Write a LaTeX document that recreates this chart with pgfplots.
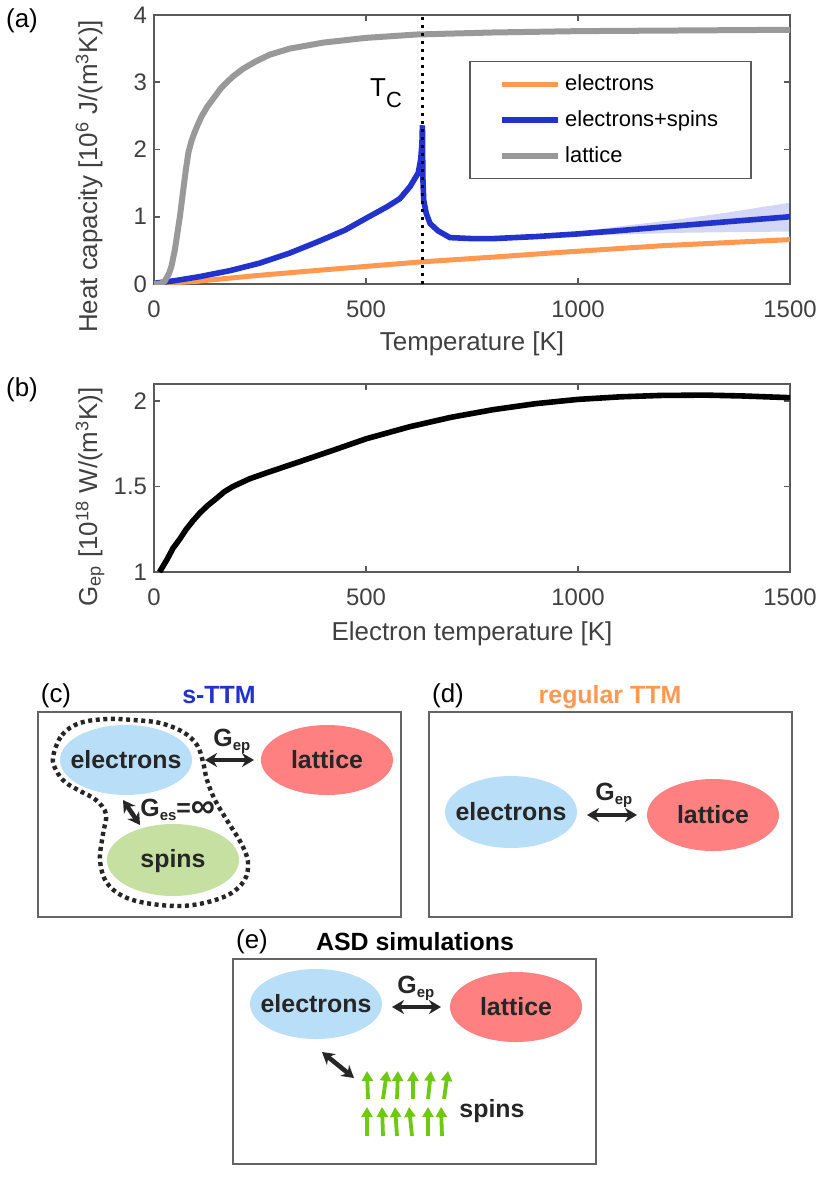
\documentclass[border=0pt]{standalone}
\usepackage{fontspec}
\setmainfont{Liberation Sans}
\usepackage{pgfplots}
\pgfplotsset{compat=1.18}
\usetikzlibrary{arrows.meta}

\definecolor{cOrange}{RGB}{255,153,82}
\definecolor{cBlue}{RGB}{34,51,204}
\definecolor{cGray}{RGB}{153,153,153}
\definecolor{axgray}{RGB}{90,90,90}
\definecolor{txgray}{RGB}{64,64,64}
\definecolor{eBlue}{RGB}{185,222,248}
\definecolor{eRed}{RGB}{255,128,128}
\definecolor{eGreen}{RGB}{197,224,160}
\definecolor{sGreen}{RGB}{110,200,20}
\definecolor{dark}{RGB}{38,38,38}
\definecolor{boxgray}{RGB}{100,100,100}

\pgfplotsset{
  panel/.style={
    scale only axis,
    xmin=0, xmax=1500,
    xtick={0,500,1000,1500},
    tick align=inside,
    major tick length=3bp,
    axis line style={draw=axgray, line width=0.75bp},
    every tick/.style={draw=axgray, line width=0.75bp},
    tick label style={font=\fontsize{12}{14}\selectfont, text=txgray},
    xticklabel style={yshift=-5bp},
    /pgf/number format/assume math mode=true,
    /pgf/number format/1000 sep={},
    label style={font=\fontsize{13}{15}\selectfont, text=txgray},
  },
}

\newcommand{\bigtxt}{\fontsize{12.5}{14}\selectfont\bfseries}
\newcommand{\Gsub}[1]{G\raisebox{-2bp}{\fontsize{7.5}{8}\selectfont #1}}
\tikzset{dbl/.style={dark, line width=2.3bp,
  {Stealth[length=6bp,width=7bp]}-{Stealth[length=6bp,width=7bp]}}}

\begin{document}
\begin{tikzpicture}
% schematic panels, coordinates in pixels of the reference (y downwards)
\begin{scope}[x=0.5bp, y=-0.5bp]
\useasboundingbox (0,0) rectangle (830,1180);

% panel labels
\node[anchor=base, font=\fontsize{13}{15}\selectfont] at (22,28) {(a)};
\node[anchor=base, font=\fontsize{13}{15}\selectfont] at (22,397) {(b)};
\node[anchor=base, font=\fontsize{13}{15}\selectfont] at (56,702) {(c)};
\node[anchor=base, font=\fontsize{13}{15}\selectfont] at (448,702) {(d)};
\node[anchor=base, font=\fontsize{13}{15}\selectfont] at (252,948) {(e)};

\node[anchor=base, font=\bigtxt, text=cBlue] at (219,703) {s-TTM};
\node[anchor=base, font=\bigtxt, text=cOrange] at (610,703) {regular TTM};
\node[anchor=base, font=\bigtxt, text=black] at (415,950) {ASD simulations};

% (c) s-TTM
\draw[boxgray, line width=0.75bp] (38,712) rectangle (401,917);
\fill[eBlue] (126,760) ellipse [x radius=33bp, y radius=17.5bp];
\fill[eRed] (327,760) ellipse [x radius=33bp, y radius=17.5bp];
\fill[eGreen] (173,860) ellipse [x radius=33bp, y radius=18bp];
\node[font=\bigtxt, text=dark] at (126,760) {electrons};
\node[font=\bigtxt, text=dark] at (327,760) {lattice};
\node[font=\bigtxt, text=dark] at (173,861) {spins};
\draw[dark, line width=2.2bp, dash pattern=on 2bp off 1.8bp]
  plot[smooth cycle, tension=0.6] coordinates {
    (53,757) (62,735) (80,723) (107,719) (133,720) (160,723) (183,732)
    (197,745) (203,762) (207,780) (215,800) (228,822) (241,843) (248,862)
    (244,881) (226,896) (193,905) (160,905) (127,898) (107,883) (100,860)
    (103,834) (106,814) (96,800) (80,791) (65,782) (56,770)};
\draw[dbl] (205,760) -- (254,760);
\node[anchor=base west, font=\bigtxt, text=dark, inner sep=0pt] at (213,746) {\Gsub{ep}};
\draw[dbl] (123,800) -- (140,825);
\node[anchor=base west, font=\bigtxt, text=dark, inner sep=0pt] at (140,816)
  {\Gsub{es}=\raisebox{-0.5bp}{\fontsize{17}{17}\selectfont ∞}};

% (d) regular TTM
\draw[boxgray, line width=0.75bp] (429,712) rectangle (792,917);
\fill[eBlue] (511,812) ellipse [x radius=33bp, y radius=18bp];
\fill[eRed] (713,815) ellipse [x radius=33bp, y radius=18bp];
\node[font=\bigtxt, text=dark] at (511,812) {electrons};
\node[font=\bigtxt, text=dark] at (713,815) {lattice};
\draw[dbl] (587,815) -- (637,815);
\node[anchor=base west, font=\bigtxt, text=dark, inner sep=0pt] at (595,800) {\Gsub{ep}};

% (e) ASD simulations
\draw[boxgray, line width=0.75bp] (233,959) rectangle (596,1164);
\fill[eBlue] (316,1004) ellipse [x radius=33bp, y radius=17.5bp];
\fill[eRed] (516,1007) ellipse [x radius=33bp, y radius=17.5bp];
\node[font=\bigtxt, text=dark] at (316,1004) {electrons};
\node[font=\bigtxt, text=dark] at (516,1007) {lattice};
\draw[dbl] (392,1007) -- (441,1007);
\node[anchor=base west, font=\bigtxt, text=dark, inner sep=0pt] at (397,993) {\Gsub{ep}};
\draw[dbl] (322,1052) -- (354,1078);
\begin{scope}[sGreen, line width=1.9bp, -{Triangle[length=5bp,width=5.5bp]}]
  \draw (368,1099) -- (367,1071);
  \draw (383,1099) -- (387,1071);
  \draw (397,1099) -- (398,1071);
  \draw (413,1099) -- (413,1071);
  \draw (428,1099) -- (431,1071);
  \draw (444,1099) -- (448,1071);
  \draw (367,1136) -- (367,1107);
  \draw (383,1136) -- (382,1107);
  \draw (397,1136) -- (395,1107);
  \draw (412,1136) -- (409,1107);
  \draw (428,1136) -- (428,1107);
  \draw (442,1136) -- (441,1107);
\end{scope}
\node[anchor=base, font=\bigtxt, text=dark] at (492,1117) {spins};
\end{scope}

% (a) heat capacity
\begin{axis}[panel,
  at={(77bp,-142bp)}, anchor=south west,
  width=318bp, height=134.5bp,
  ymin=0, ymax=4, ytick={0,1,2,3,4},
  xlabel={Temperature [K]},
  xlabel style={at={(rel axis cs:0.5,-0.2476)}, anchor=base},
  ylabel={Heat capacity [10\textsuperscript{6} J/(m\textsuperscript{3}K)]},
  ylabel style={at={(rel axis cs:-0.0896,0.40)}, anchor=base},
  legend cell align=left,
  legend style={at={(0.94,0.829)}, anchor=north east,
    draw=axgray, line width=0.75bp, fill=white,
    font=\fontsize{11}{13}\selectfont,
    inner xsep=14.5bp, inner ysep=4.5bp, row sep=4.5bp},
  legend image code/.code={\draw[#1] (0bp,0bp) -- (28bp,0bp);},
]
\addplot[draw=none, fill=cBlue, fill opacity=0.2, forget plot] coordinates {
  (700,0.69) (800,0.69) (900,0.725) (1000,0.775) (1100,0.86) (1224,0.95)
  (1350,1.06) (1500,1.21) (1500,0.78) (1350,0.77) (1224,0.76) (1100,0.735)
  (1000,0.72) (900,0.69) (800,0.665) (700,0.685)};
\addplot[cOrange, line width=2.5bp] coordinates {
  (0,0) (100,0.04) (250,0.13) (400,0.21) (633,0.33) (800,0.40) (957,0.47)
  (1200,0.57) (1500,0.66)};
\addlegendentry{electrons}
\addplot[cBlue, line width=2.8bp] coordinates {
  (0,0.01) (50,0.05) (108,0.11) (180,0.2) (249,0.31) (320,0.46) (383,0.62)
  (450,0.8) (501,0.98) (550,1.15) (580,1.27) (604,1.45) (623,1.65) (629,1.85)
  (632,2.1) (633,2.36) (634,1.6) (636,1.25) (642,1.05) (651,0.9) (670,0.79)
  (698,0.69) (750,0.675) (800,0.675) (900,0.705) (1000,0.745) (1100,0.795)
  (1224,0.86) (1350,0.925) (1500,1.0)};
\addlegendentry{electrons+spins}
\addplot[cGray, line width=3bp] coordinates {
  (0,0) (15,0.005) (25,0.04) (35,0.15) (41,0.26) (49,0.5) (55,0.75) (61,1.0)
  (66,1.25) (71,1.5) (76,1.74) (81,1.95) (88,2.12) (96,2.26) (104,2.38)
  (112,2.49) (125,2.63) (139,2.75) (159,2.92) (185,3.08) (210,3.2)
  (240,3.31) (273,3.41) (320,3.5) (400,3.59) (500,3.66)
  (620,3.71) (800,3.74) (1000,3.76) (1250,3.77) (1500,3.78)};
\addlegendentry{lattice}
\addplot[black, line width=1.5bp, dash pattern=on 1.5bp off 2.5bp, forget plot]
  coordinates {(633,0) (633,4)};
\node[anchor=base west, inner sep=0pt, font=\fontsize{13}{15}\selectfont]
  at (axis cs:509,2.787) {T\raisebox{-5.5bp}{\fontsize{11}{13}\selectfont C}};
\end{axis}

% (b) electron-phonon coupling
\begin{axis}[panel,
  at={(77bp,-286bp)}, anchor=south west,
  width=318bp, height=94bp,
  ymin=1, ymax=2.1, ytick={1,1.5,2},
  xlabel={Electron temperature [K]},
  xlabel style={at={(rel axis cs:0.5,-0.365)}, anchor=base},
  ylabel={G\textsubscript{ep} [10\textsuperscript{18} W/(m\textsuperscript{3}K)]},
  ylabel style={at={(rel axis cs:-0.0896,0.40)}, anchor=base},
]
\addplot[black, line width=2.8bp] coordinates {
  (13,1.0) (30,1.07) (45,1.14) (60,1.19) (76,1.25) (92,1.30) (108,1.345)
  (127,1.39) (147,1.43) (166,1.47) (186,1.50) (225,1.545) (265,1.58)
  (344,1.646) (422,1.712) (501,1.78) (603,1.85) (700,1.905) (800,1.95)
  (900,1.985) (1000,2.01) (1100,2.025) (1193,2.033) (1300,2.035)
  (1389,2.03) (1500,2.02)};
\end{axis}
\end{tikzpicture}
\end{document}
